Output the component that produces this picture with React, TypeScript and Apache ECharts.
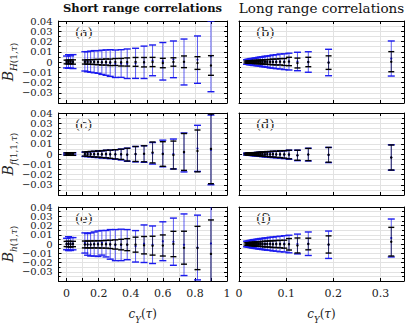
import React, { useEffect, useRef } from 'react';
import * as echarts from 'echarts';

// ---- data ----
const leftX = [0.0, 0.012, 0.025, 0.04, 0.114, 0.131, 0.15, 0.172, 0.196, 0.22, 0.246, 0.272, 0.304, 0.34, 0.378, 0.43, 0.483, 0.536, 0.6, 0.666, 0.732, 0.816, 0.9];
const rightX = [0.016, 0.019, 0.022, 0.025, 0.028, 0.031, 0.034, 0.038, 0.042, 0.046, 0.05, 0.055, 0.06, 0.066, 0.072, 0.079, 0.087, 0.096, 0.106, 0.124, 0.147, 0.19, 0.323];

const leftXTicks = [0, 0.1, 0.2, 0.3, 0.4, 0.5, 0.6, 0.7, 0.8, 0.9, 1.0];
const leftXLabels = [0, 0.2, 0.4, 0.6, 0.8, 1];
const rightXTicks = [0, 0.1, 0.2, 0.3];
const yLabelsEven = [-0.02, 0, 0.02, 0.04];
const yLabelsOdd = [-0.03, -0.01, 0.01, 0.03];

const titles = ['Short range correlations', 'Long range correlations'];
const panelTags = ['(a)', '(b)', '(c)', '(d)', '(e)', '(f)'];

// panel (a)
const aBlueMid = [0, 0.0005, 0, 0.0004, 0.0006, 0.0003, 0.0003, 0.0003, 0, -0.0003, -0.0006, -0.001, -0.0017, -0.0015, -0.0017, -0.0013, -0.0003, 0.0016, 0.0007, 0.0026, 0, 0.0023, 0.0055];
const aBlueErr = [0.0058, 0.0066, 0.006, 0.0068, 0.0094, 0.0098, 0.0103, 0.0108, 0.011, 0.0118, 0.0124, 0.013, 0.0134, 0.0135, 0.0144, 0.0147, 0.0158, 0.015, 0.0183, 0.0179, 0.0224, 0.0231, 0.0345];
const aBlackMid = [0, 0, 0.0002, 0, 0, 0, 0, 0, 0, -0.0002, 0, -0.0003, 0, -0.0002, 0, 0.0001, -0.0002, 0, -0.001, 0, 0.0002, -0.001, -0.0034];
const aBlackErr = [0.0018, 0.002, 0.0018, 0.0021, 0.002, 0.0021, 0.0022, 0.0024, 0.0026, 0.0028, 0.003, 0.0032, 0.0034, 0.0037, 0.004, 0.0043, 0.0046, 0.0045, 0.0046, 0.0041, 0.0057, 0.0062, 0.0096];

// panel (b)
const bBlueMid = [0, 0.0002, 0, 0.0003, 0.0002, 0, 0.0003, 0.0002, 0.0004, 0.0003, 0.0002, 0.0004, 0.0003, 0.0002, 0.0004, 0.0003, 0.0005, 0.0003, 0.0004, 0.0005, 0, -0.0005, 0.0034];
const bBlueErr = [0.0022, 0.0025, 0.0027, 0.003, 0.0032, 0.0034, 0.0036, 0.0039, 0.0042, 0.0045, 0.0048, 0.0052, 0.0055, 0.006, 0.0064, 0.0068, 0.0073, 0.0077, 0.0082, 0.009, 0.01, 0.0129, 0.0171];
const bBlackMid = [0, 0, 0.0001, 0, 0, 0.0001, 0, 0, 0.0001, 0, 0, 0.0001, 0, 0, 0.0001, 0, 0.0002, 0, 0.0005, -0.001, 0, -0.0006, 0.0003];
const bBlackErr = [0.0009, 0.001, 0.0011, 0.0012, 0.0013, 0.0014, 0.0015, 0.0016, 0.0017, 0.0018, 0.002, 0.0021, 0.0023, 0.0025, 0.0027, 0.0029, 0.0031, 0.0034, 0.0041, 0.0048, 0.0046, 0.0066, 0.0098];

// panel (c)
const cBlueMid = [0, 0, 0, 0, -0.0003, -0.0003, -0.0003, -0.0004, -0.0003, -0.0004, -0.0003, -0.0004, -0.0005, -0.0005, -0.0007, -0.0002, 0, 0.0007, 0.0005, 0, 0.0015, 0.0055, 0.004];
const cBlueErr = [0.0009, 0.001, 0.001, 0.0011, 0.0021, 0.0023, 0.0026, 0.0029, 0.0032, 0.0035, 0.0039, 0.0042, 0.0047, 0.0053, 0.0064, 0.0075, 0.0081, 0.0105, 0.013, 0.0146, 0.019, 0.0225, 0.034];
const cBlackMid = [0, 0, 0, 0, 0, 0, 0, -0.0001, 0, -0.0002, 0, -0.0002, -0.0003, -0.0003, -0.0006, 0, 0.0002, 0.0015, 0, -0.001, 0.002, 0.003, 0.005];
const cBlackErr = [0.0011, 0.0012, 0.0012, 0.0013, 0.002, 0.0022, 0.0025, 0.0028, 0.003, 0.0033, 0.0037, 0.004, 0.0045, 0.005, 0.0062, 0.0073, 0.0078, 0.0102, 0.012, 0.0136, 0.018, 0.0204, 0.034];

// panel (d)
const dBlueMid = [-0.0001, -0.0001, -0.0002, -0.0001, -0.0002, -0.0002, -0.0003, -0.0002, -0.0003, -0.0003, -0.0004, -0.0004, -0.0004, -0.0005, -0.0005, -0.0006, -0.0006, -0.0007, -0.0007, -0.0014, -0.0006, -0.001, -0.0034];
const dBlueErr = [0.0009, 0.001, 0.0011, 0.0012, 0.0013, 0.0014, 0.0015, 0.0017, 0.0018, 0.002, 0.0022, 0.0024, 0.0026, 0.0028, 0.003, 0.0032, 0.0035, 0.0038, 0.0044, 0.0051, 0.0062, 0.0074, 0.0124];
const dBlackMid = [0, 0, 0, 0, 0, 0, -0.0001, 0, 0, -0.0001, 0, -0.0002, 0, -0.0002, -0.0001, -0.0003, -0.0002, -0.0004, -0.0005, -0.0012, -0.0005, -0.0008, -0.0034];
const dBlackErr = [0.0008, 0.0009, 0.001, 0.0011, 0.0012, 0.0013, 0.0014, 0.0015, 0.0017, 0.0018, 0.002, 0.0022, 0.0024, 0.0026, 0.0028, 0.003, 0.0033, 0.0036, 0.0042, 0.0049, 0.006, 0.0072, 0.0122];

// panel (e)
const eBlueMid = [0, 0.0004, 0, 0.0003, 0.0011, -0.0004, -0.0005, 0, 0.0003, 0.0013, 0.0003, -0.0004, -0.0012, -0.001, -0.0007, -0.0025, 0.0003, -0.0008, 0.003, 0.0025, -0.0008, -0.0038, 0.0006];
const eBlueErr = [0.0062, 0.0075, 0.007, 0.0066, 0.0109, 0.0117, 0.0125, 0.013, 0.0138, 0.0133, 0.0143, 0.016, 0.0168, 0.017, 0.0163, 0.017, 0.0203, 0.0203, 0.021, 0.0255, 0.0333, 0.035, 0.05];
const eBlackMid = [0, 0, -0.0003, 0, -0.0005, -0.0005, -0.0005, -0.0004, -0.0004, -0.0004, -0.0003, -0.0004, -0.0005, -0.0006, -0.0007, -0.0007, -0.0013, -0.0018, -0.0016, 0, -0.004, -0.0043, -0.0107];
const eBlackErr = [0.0028, 0.003, 0.003, 0.0029, 0.0037, 0.0037, 0.0038, 0.0038, 0.0039, 0.004, 0.0042, 0.0045, 0.005, 0.0057, 0.0065, 0.0081, 0.0094, 0.0102, 0.0114, 0.0137, 0.0178, 0.0234, 0.0367];

// panel (f)
const fBlueMid = [0, 0, 0.0001, 0, 0, 0.0002, 0, 0.0001, 0, 0.0002, 0, 0.0001, 0, 0.0002, 0, 0.0001, 0, 0.0002, 0, 0, 0.0003, -0.0008, 0.0065];
const fBlueErr = [0.003, 0.0033, 0.0036, 0.0039, 0.0042, 0.0045, 0.0048, 0.0051, 0.0054, 0.0057, 0.006, 0.0064, 0.0067, 0.0071, 0.0075, 0.0079, 0.0084, 0.0088, 0.0095, 0.0107, 0.0127, 0.0148, 0.0205];
const fBlackMid = [0, 0, 0, 0, 0, -0.0001, 0, 0, -0.0001, 0, 0, -0.0001, 0, 0, -0.0002, 0, -0.0001, -0.0002, -0.0003, -0.0016, 0, -0.0005, 0.0025];
const fBlackErr = [0.0012, 0.0014, 0.0015, 0.0017, 0.0018, 0.002, 0.0021, 0.0023, 0.0024, 0.0026, 0.0028, 0.003, 0.0032, 0.0034, 0.0036, 0.0038, 0.004, 0.0043, 0.0062, 0.0081, 0.0063, 0.0093, 0.0155];

const panels = [
  { xs: leftX, bm: aBlueMid, be: aBlueErr, km: aBlackMid, ke: aBlackErr },
  { xs: rightX, bm: bBlueMid, be: bBlueErr, km: bBlackMid, ke: bBlackErr },
  { xs: leftX, bm: cBlueMid, be: cBlueErr, km: cBlackMid, ke: cBlackErr },
  { xs: rightX, bm: dBlueMid, be: dBlueErr, km: dBlackMid, ke: dBlackErr },
  { xs: leftX, bm: eBlueMid, be: eBlueErr, km: eBlackMid, ke: eBlackErr },
  { xs: rightX, bm: fBlueMid, be: fBlueErr, km: fBlackMid, ke: fBlackErr },
];

const yNames = [
  '{b|B}{si|H}{sn|(1,}{si|τ}{sn|)}',
  '{b|B}{si|f}{sn|(1,1,}{si|τ}{sn|)}',
  '{b|B}{si|h}{sn|(1,}{si|τ}{sn|)}',
];
const xName = '{i|c}{si|Y}{n|(}{i|τ}{n|)}';

// ---- layout / style ----
const FONT = "'DejaVu Serif', serif";
const GRID_LEFT = [58, 239];
const GRID_W = [169, 165];
const GRID_TOP = [21, 113, 207];
const GRID_H = 82;
const BLUE = '#1a1aee';
const GRIDC = '#e2e2e2';
const TXT = '#222';

const fmtY = (v: number) => (Math.abs(v) < 1e-9 ? '0' : v.toFixed(2).replace('-', '\u2212'));
const fmtX = (v: number) => (Math.abs(v) < 1e-9 ? '0' : String(+v.toFixed(2)));

function renderBars(color: string, lineColor: string, cap: number, r: number) {
  return (params: any, api: any) => {
    const x = api.value(0);
    const m = api.value(1);
    const e = api.value(2);
    const t = api.coord([x, m + e]);
    const b = api.coord([x, m - e]);
    const c = api.coord([x, m]);
    return {
      type: 'group',
      children: [
        { type: 'line', shape: { x1: t[0], y1: t[1], x2: b[0], y2: b[1] }, style: { stroke: lineColor, lineWidth: 1 } },
        { type: 'line', shape: { x1: t[0] - cap, y1: t[1], x2: t[0] + cap, y2: t[1] }, style: { stroke: color, lineWidth: 1.4 } },
        { type: 'line', shape: { x1: b[0] - cap, y1: b[1], x2: b[0] + cap, y2: b[1] }, style: { stroke: color, lineWidth: 1.4 } },
        { type: 'circle', shape: { cx: c[0], cy: c[1], r }, style: { fill: color } },
      ],
    };
  };
}

export default function App() {
  const ref = useRef<HTMLDivElement>(null);
  useEffect(() => {
    document.body.style.margin = '0';
    if (!ref.current) return;
    const chart = echarts.init(ref.current, null, { renderer: 'svg' });
    const grids: any[] = [];
    const xAxis: any[] = [];
    const yAxis: any[] = [];
    const series: any[] = [];
    const graphic: any[] = [];
    const yLabelStyle = { margin: 6, color: TXT, fontFamily: FONT, fontSize: 10, lineHeight: 10, formatter: fmtY, showMinLabel: true, showMaxLabel: true, hideOverlap: false };

    panels.forEach((p, i) => {
      const row = Math.floor(i / 2);
      const col = i % 2;
      grids.push({ left: GRID_LEFT[col], top: GRID_TOP[row], width: GRID_W[col], height: GRID_H, containLabel: false });
      const xmin = col === 0 ? -0.05 : 0;
      const xmax = col === 0 ? 1.0 : 0.35;
      const ticks = col === 0 ? leftXTicks : rightXTicks;
      const labels = col === 0 ? leftXLabels : rightXTicks;
      const axLine = { show: true, onZero: false, lineStyle: { color: '#000', width: 1 } };
      const xIdx = xAxis.length;
      const yIdx = yAxis.length;
      xAxis.push({
        type: 'value', gridIndex: i, position: 'bottom', min: xmin, max: xmax,
        axisLine: axLine,
        axisTick: { show: true, inside: true, length: 3, customValues: ticks, lineStyle: { color: '#000' } },
        axisLabel: { show: row === 2, customValues: labels, formatter: fmtX, margin: 7, color: TXT, fontFamily: FONT, fontSize: 11, showMinLabel: true, showMaxLabel: true },
        splitLine: { show: true, lineStyle: { color: GRIDC, width: 1 } },
        name: row === 2 ? xName : '', nameLocation: 'middle', nameGap: 27,
        nameTextStyle: {
          fontFamily: FONT, color: TXT,
          rich: {
            i: { fontFamily: FONT, fontStyle: 'italic', fontSize: 12, lineHeight: 12, verticalAlign: 'top', color: TXT },
            n: { fontFamily: FONT, fontSize: 12, lineHeight: 12, verticalAlign: 'top', color: TXT },
            si: { fontFamily: FONT, fontStyle: 'italic', fontSize: 8.5, lineHeight: 8.5, padding: [7, 0, 0, 0], verticalAlign: 'top', color: TXT },
          },
        },
      });
      xAxis.push({
        type: 'value', gridIndex: i, position: 'top', min: xmin, max: xmax,
        axisLine: axLine,
        axisTick: { show: true, inside: true, length: 3, customValues: ticks, lineStyle: { color: '#000' } },
        axisLabel: { show: false }, splitLine: { show: false },
      });
      yAxis.push({
        type: 'value', gridIndex: i, position: 'left', min: -0.04, max: 0.04, interval: 0.01,
        axisLine: axLine,
        axisTick: { show: true, inside: true, length: 3, lineStyle: { color: '#000' } },
        minorTick: { show: true, splitNumber: 2, length: 2, lineStyle: { color: '#000' } },
        splitLine: { show: true, lineStyle: { color: GRIDC, width: 1 } },
        minorSplitLine: { show: true, lineStyle: { color: GRIDC, width: 1 } },
        axisLabel: { show: col === 0, customValues: yLabelsEven, ...yLabelStyle },
        name: col === 0 ? yNames[row] : '', nameLocation: 'middle', nameGap: 37, nameRotate: 90,
        nameTextStyle: {
          fontFamily: FONT, color: TXT,
          rich: {
            b: { fontFamily: FONT, fontStyle: 'italic', fontSize: 14, lineHeight: 14, verticalAlign: 'top', color: TXT },
            si: { fontFamily: FONT, fontStyle: 'italic', fontSize: 9, lineHeight: 9, padding: [8, 0, 0, 0], verticalAlign: 'top', color: TXT },
            sn: { fontFamily: FONT, fontSize: 9, lineHeight: 9, padding: [8, 0, 0, 0], verticalAlign: 'top', color: TXT },
          },
        },
      });
      yAxis.push({
        type: 'value', gridIndex: i, position: 'right', min: -0.04, max: 0.04, interval: 0.01,
        axisLine: axLine,
        axisTick: { show: true, inside: true, length: 3, lineStyle: { color: '#000' } },
        minorTick: { show: true, splitNumber: 2, length: 2, lineStyle: { color: '#000' } },
        splitLine: { show: false }, axisLabel: { show: false },
      });
      if (col === 0) {
        yAxis.push({
          type: 'value', gridIndex: i, position: 'left', offset: 0, min: -0.04, max: 0.04, interval: 0.01,
          axisLine: { show: false, onZero: false }, axisTick: { show: false }, splitLine: { show: false },
          axisLabel: { show: true, customValues: yLabelsOdd, ...yLabelStyle },
        });
      }
      series.push({
        type: 'custom', xAxisIndex: xIdx, yAxisIndex: yIdx, clip: true, z: 2,
        renderItem: renderBars(BLUE, 'rgba(26,26,238,0.7)', 3.5, 1.1),
        encode: { x: 0, y: 1 },
        data: p.xs.map((x, k) => [x, p.bm[k], p.be[k]]),
      });
      series.push({
        type: 'custom', xAxisIndex: xIdx, yAxisIndex: yIdx, clip: true, z: 3,
        renderItem: renderBars('#000', 'rgba(0,0,0,0.6)', 3, 1.2),
        encode: { x: 0, y: 1 },
        data: p.xs.map((x, k) => [x, p.km[k], p.ke[k]]),
      });
      graphic.push({
        type: 'text', left: GRID_LEFT[col] + 17, top: GRID_TOP[row] + 5,
        style: { text: panelTags[i], fontFamily: FONT, fontSize: 13, fontStyle: 'normal', fontWeight: 'normal', fill: TXT },
      });
    });

    titles.forEach((t, c) => {
      graphic.push({
        type: 'text', x: GRID_LEFT[c] + GRID_W[c] / 2, y: 8,
        style: { text: t, fontFamily: FONT, fontSize: c === 0 ? 11.5 : 13.5, fontWeight: c === 0 ? 'bold' : 'normal', fill: '#111', align: 'center', verticalAlign: 'middle' },
      });
    });

    chart.setOption({
      animation: false,
      backgroundColor: '#fff',
      grid: grids,
      xAxis,
      yAxis,
      series,
      graphic,
    });
    return () => chart.dispose();
  }, []);
  return <div ref={ref} style={{ width: 407, height: 325 }} />;
}
